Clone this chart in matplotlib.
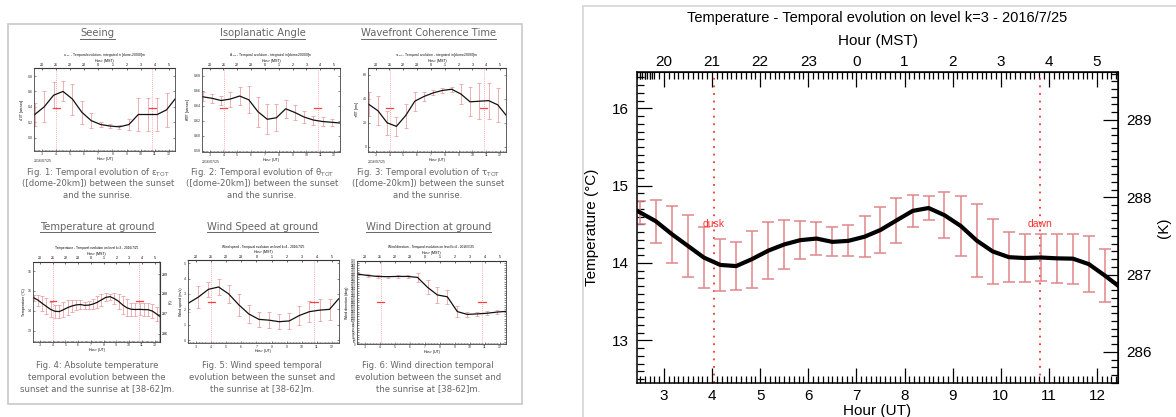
import numpy as np
import matplotlib
matplotlib.use('Agg')
import matplotlib.pyplot as plt
from matplotlib.ticker import MultipleLocator, FixedLocator, FuncFormatter
from matplotlib.lines import Line2D
from matplotlib.patches import Rectangle

# ---- main chart data: temperature at level k=3, 2016/7/25 ----
bar_hours = [2.50, 2.83, 3.17, 3.50, 3.83, 4.17, 4.50, 4.83, 5.17, 5.50,
             5.83, 6.17, 6.50, 6.83, 7.17, 7.50, 7.83, 8.17, 8.50, 8.83,
             9.17, 9.50, 9.83, 10.17, 10.50, 10.83, 11.17, 11.50, 11.83, 12.17]
temp_mean = [14.655, 14.54, 14.37, 14.22, 14.07, 13.975, 13.96, 14.05, 14.16, 14.24,
             14.295, 14.316, 14.273, 14.286, 14.34, 14.427, 14.55, 14.674, 14.711, 14.618,
             14.478, 14.29, 14.15, 14.075, 14.064, 14.071, 14.06, 14.056, 13.985, 13.834]
temp_err = [0.151, 0.276, 0.37, 0.40, 0.39, 0.335, 0.31, 0.37, 0.37, 0.32,
            0.245, 0.21, 0.187, 0.20, 0.263, 0.30, 0.29, 0.205, 0.151, 0.295,
            0.388, 0.467, 0.418, 0.325, 0.31, 0.308, 0.319, 0.323, 0.36, 0.343]
# curve values at the left / right edge of the plot
edge_hours = [2.45, 12.43]
edge_temp = [14.67, 13.71]

dusk_hour = 4.03
dawn_hour = 10.81

# ---- small charts on the web page (left part) ----
small_hours = [2.45, 2.50, 3.17, 3.83, 4.50, 5.17, 5.83, 6.50, 7.17, 7.83,
               8.50, 9.17, 9.83, 10.50, 11.17, 11.83, 12.43]
seeing = [0.29, 0.30, 0.40, 0.55, 0.60, 0.50, 0.33, 0.22, 0.17, 0.15,
          0.14, 0.17, 0.30, 0.30, 0.30, 0.36, 0.50]
seeing_err = [0, 0.15, 0.20, 0.17, 0.13, 0.20, 0.15, 0.10, 0.03, 0.03,
              0.03, 0.07, 0.22, 0.22, 0.22, 0.22, 0]
iso = [0.652, 0.652, 0.650, 0.647, 0.649, 0.653, 0.648, 0.632, 0.622, 0.624,
       0.636, 0.631, 0.625, 0.621, 0.619, 0.618, 0.617]
iso_err = [0, 0.006, 0.006, 0.006, 0.010, 0.012, 0.018, 0.020, 0.020, 0.018,
           0.012, 0.010, 0.008, 0.006, 0.006, 0.005, 0]
tau = [35.6, 35.4, 30, 20, 17, 26, 38, 42, 45, 47,
       48, 44, 37.5, 38, 38.5, 35, 26.4]
tau_err = [0, 10, 12, 10, 8, 10, 8, 4, 2, 2,
           2, 8, 12, 15, 15, 14, 0]
wspeed = [2.38, 2.4, 2.8, 3.3, 3.45, 3.0, 2.3, 1.7, 1.35, 1.3,
          1.2, 1.25, 1.6, 1.85, 1.95, 2.0, 2.68]
wspeed_err = [0, 0.6, 0.7, 0.5, 0.5, 0.6, 0.7, 0.6, 0.5, 0.5,
              0.5, 0.5, 0.6, 0.7, 0.7, 0.7, 0]
wdir = [303, 302, 296, 292, 291, 292, 292, 288, 245, 212,
        204, 140, 128, 130, 133, 138, 141]
wdir_err = [0, 5, 5, 5, 5, 5, 5, 20, 30, 35,
            30, 25, 10, 8, 8, 8, 0]

W, H = 1176, 417
fig = plt.figure(figsize=(W / 100, H / 100), dpi=100)
plt.rcParams['font.family'] = ['Liberation Sans', 'DejaVu Sans']


def box(x0, y0, x1, y1):
    # pixel box (top-left origin) -> figure fraction
    return [x0 / W, 1 - y1 / H, (x1 - x0) / W, (y1 - y0) / H]


def mst_fmt(v, p):
    return f'{int(round(v)) % 24}'


BAR_RED = '#e0868a'
LINE_RED = '#ff3030'

# ================= main chart =================
ax = fig.add_axes(box(637.3, 72, 1117.7, 383.3))
ax.set_xlim(2.446, 12.43)
ax.set_ylim(12.444, 16.47)
ax.axvline(dusk_hour, color=LINE_RED, lw=1.3, ls=(0, (1.0, 3.2)))
ax.axvline(dawn_hour, color=LINE_RED, lw=1.3, ls=(0, (1.0, 3.2)))
ax.errorbar(bar_hours, temp_mean, yerr=temp_err, fmt='none', ecolor=BAR_RED,
            elinewidth=1.1, capsize=4, capthick=1.1)
ax.plot([edge_hours[0]] + bar_hours + [edge_hours[1]],
        [edge_temp[0]] + temp_mean + [edge_temp[1]], color='black', lw=3.0,
        solid_joinstyle='round')
ax.text(dusk_hour, 14.505, 'dusk', color=LINE_RED, fontsize=7.5, ha='center', va='center')
ax.text(dawn_hour, 14.505, 'dawn', color=LINE_RED, fontsize=7.5, ha='center', va='center')

ax.xaxis.set_major_locator(MultipleLocator(1))
ax.xaxis.set_minor_locator(MultipleLocator(0.1))
ax.yaxis.set_major_locator(MultipleLocator(1))
ax.yaxis.set_minor_locator(MultipleLocator(0.1))
ax.tick_params(which='major', direction='in', length=11, width=0.9, labelsize=11,
               top=False, right=False, pad=4)
ax.tick_params(which='minor', direction='in', length=5.3, width=0.9, top=False, right=False)
ax.tick_params(axis='y', pad=6)
for s in ax.spines.values():
    s.set_linewidth(1.1)
ax.set_xlabel('Hour (UT)', fontsize=11, labelpad=1)
ax.set_ylabel('Temperature (°C)', fontsize=11)
ax.yaxis.set_label_coords(-0.08, 0.5)

top = ax.secondary_xaxis('top', functions=(lambda h: h - 7, lambda h: h + 7))
top.xaxis.set_major_locator(MultipleLocator(1))
top_minor = list(np.arange(-4.55, -4.2, 0.05)) + list(np.arange(-4.5, 5.5, 0.1))
top.xaxis.set_minor_locator(FixedLocator(top_minor))
top.xaxis.set_major_formatter(FuncFormatter(mst_fmt))
top.tick_params(which='major', direction='in', length=11, width=0.9, labelsize=11, pad=2)
top.tick_params(which='minor', direction='in', length=5.3, width=0.9)
top.set_xlabel('Hour (MST)', fontsize=11, labelpad=7)

right = ax.secondary_yaxis('right', functions=(lambda c: c + 273.15, lambda k: k - 273.15))
right.yaxis.set_major_locator(MultipleLocator(1))
right.yaxis.set_minor_locator(MultipleLocator(0.1))
right.tick_params(which='major', direction='in', length=11, width=0.9, labelsize=11, pad=6)
right.tick_params(which='minor', direction='in', length=5.3, width=0.9)
right.set_ylabel('(K)', fontsize=11, labelpad=4)

ax.set_title('Temperature - Temporal evolution on level k=3 - 2016/7/25', fontsize=10.5, pad=9)

# light frame around the right-hand picture
fig.add_artist(Line2D([583 / W, 1.0], [1 - 5.5 / H] * 2, transform=fig.transFigure,
                      color='#d6d6d6', lw=1.2))
fig.add_artist(Line2D([583 / W] * 2, [0, 1 - 5.5 / H], transform=fig.transFigure,
                      color='#d6d6d6', lw=1.2))

# ================= left web page =================
fig.add_artist(Rectangle((8 / W, 1 - 404 / H), (522 - 8) / W, (404 - 23.5) / H,
                         transform=fig.transFigure, fill=False, ec='#c8c8c8', lw=1.2))

GRAY = '#666666'
TINY = 2.6


def small_chart(pos, title, ylabel, vals, errs, ylim, yticks, mark_y,
                date=False, kelvin=False, hours=small_hours, ytick_size=TINY):
    a = fig.add_axes(box(*pos))
    a.set_xlim(2.446, 12.43)
    a.set_ylim(*ylim)
    a.axvline(dusk_hour, color='#ff6060', lw=0.5, ls=(0, (1, 2)))
    a.axvline(dawn_hour, color='#ff6060', lw=0.5, ls=(0, (1, 2)))
    a.errorbar(hours[1:-1], vals[1:-1], yerr=errs[1:-1], fmt='none', ecolor='#eaa3a5',
               elinewidth=0.6, capsize=1.2, capthick=0.6)
    a.plot(hours, vals, color='#111111', lw=0.9)
    a.plot([dusk_hour - 0.25, dusk_hour + 0.25], [mark_y] * 2, color='#ff4040', lw=0.9)
    a.plot([dawn_hour - 0.25, dawn_hour + 0.25], [mark_y] * 2, color='#ff4040', lw=0.9)
    a.xaxis.set_major_locator(MultipleLocator(1))
    a.xaxis.set_minor_locator(MultipleLocator(0.1))
    a.yaxis.set_major_locator(FixedLocator(yticks))
    a.tick_params(which='major', direction='in', length=1.6, width=0.4, labelsize=TINY,
                  pad=1, top=False, right=not kelvin, colors='#333333')
    a.tick_params(axis='y', labelsize=ytick_size)
    a.tick_params(which='minor', direction='in', length=0.8, width=0.3, top=False,
                  right=not kelvin)
    for s in a.spines.values():
        s.set_linewidth(0.6)
        s.set_color('#444444')
    a.set_xlabel('Hour (UT)', fontsize=TINY, labelpad=0.5)
    a.set_ylabel(ylabel, fontsize=TINY, labelpad=1)
    t = a.secondary_xaxis('top', functions=(lambda h: h - 7, lambda h: h + 7))
    t.xaxis.set_major_locator(MultipleLocator(1))
    t.xaxis.set_minor_locator(MultipleLocator(0.1))
    t.xaxis.set_major_formatter(FuncFormatter(mst_fmt))
    t.tick_params(which='major', direction='in', length=1.6, width=0.4, labelsize=TINY, pad=1)
    t.tick_params(which='minor', direction='in', length=0.8, width=0.3)
    t.set_xlabel('Hour (MST)', fontsize=TINY, labelpad=0.8)
    a.set_title(title, fontsize=2.3, pad=2)
    if kelvin:
        k = a.secondary_yaxis('right', functions=(lambda c: c + 273.15, lambda v: v - 273.15))
        k.yaxis.set_major_locator(MultipleLocator(1))
        k.yaxis.set_minor_locator(MultipleLocator(0.1))
        k.tick_params(which='major', direction='in', length=1.6, width=0.4, labelsize=TINY, pad=1)
        k.tick_params(which='minor', direction='in', length=0.8, width=0.3)
        k.set_ylabel('(K)', fontsize=TINY, labelpad=1)
    if date:
        a.text(0.0, -0.1, '2016/07/25', transform=a.transAxes, fontsize=TINY,
               ha='left', va='top', color='#333333')
    return a


small_chart((34, 68.3, 175, 150.7), r'$\epsilon_{TOT}$ - Temporal evolution - integrated in [dome-20000]m',
            r'$\epsilon_{TOT}$ [arcsec]', seeing, seeing_err, (-0.17, 0.9),
            [0.0, 0.2, 0.4, 0.6, 0.8], 0.38, date=True)
small_chart((202, 68.3, 340, 151.5), r'$\theta_{TOT}$ - Temporal evolution - integrated in [dome-20000]m',
            r'$\theta_{TOT}$ [arcsec]', iso, iso_err, (0.579, 0.69),
            [0.58, 0.60, 0.62, 0.64, 0.66, 0.68], 0.637, date=True)
small_chart((368, 68.3, 506, 151.5), r'$\tau_{TOT}$ - Temporal evolution - integrated in [dome-20000]m',
            r'$\tau_{TOT}$ [ms]', tau, tau_err, (-4, 65.5),
            [0, 20, 40, 60], 32, date=True)
small_chart((33, 261.7, 160, 341.7), 'Temperature - Temporal evolution on level k=3 - 2016/7/25',
            'Temperature (°C)', [edge_temp[0]] + temp_mean + [edge_temp[1]],
            [0] + temp_err + [0], (12.444, 16.47), [13, 14, 15, 16], 14.5,
            kelvin=True, hours=[edge_hours[0]] + bar_hours + [edge_hours[1]])
small_chart((187.5, 260, 338.6, 343.3), 'Wind speed - Temporal evolution on level k=4 - 2016/7/25',
            'Wind speed (m/s)', wspeed, wspeed_err, (-0.2, 5.2),
            [0, 1, 2, 3, 4, 5], 2.45)
small_chart((357, 260.7, 506, 344), 'Wind direction - Temporal evolution on level k=4 - 2016/7/25',
            'Wind direction (deg)', wdir, wdir_err, (0, 360),
            list(range(0, 361, 10)), 181, ytick_size=2.2)

heads = [('Seeing', 97.5, 33), ('Isoplanatic Angle', 262.5, 33),
         ('Wavefront Coherence Time', 428.5, 33),
         ('Temperature at ground', 97.5, 226.7), ('Wind Speed at ground', 262.5, 226.7),
         ('Wind Direction at ground', 428.5, 226.7)]
head_texts = []
for txt, x, y in heads:
    head_texts.append(fig.text(x / W, 1 - y / H, txt, family='DejaVu Sans', fontsize=7.2,
                               color=GRAY, ha='center', va='center'))

captions = [
    (98, 172.7, ['Fig. 1: Temporal evolution of ε$_{\\rm TOT}$',
                 '([dome-20km]) between the sunset', 'and the sunrise.']),
    (262, 172.7, ['Fig. 2: Temporal evolution of θ$_{\\rm TOT}$',
                  '([dome-20km]) between the sunset', 'and the sunrise.']),
    (428, 172.7, ['Fig. 3: Temporal evolution of τ$_{\\rm TOT}$',
                  '([dome-20km]) between the sunset', 'and the sunrise.']),
    (97, 365.7, ['Fig. 4: Absolute temperature', 'temporal evolution between the',
                 'sunset and the sunrise at [38-62]m.']),
    (262, 365.7, ['Fig. 5: Wind speed temporal', 'evolution between the sunset and',
                  'the sunrise at [38-62]m.']),
    (428, 365.7, ['Fig. 6: Wind direction temporal', 'evolution between the sunset and',
                  'the sunrise at [38-62]m.']),
]
for x, y, lines in captions:
    for i, line in enumerate(lines):
        fig.text(x / W, 1 - (y + i * 11.3) / H, line, family='DejaVu Sans', fontsize=6.1,
                 color=GRAY, ha='center', va='center')

# underline the section headings
fig.canvas.draw()
rend = fig.canvas.get_renderer()
for t in head_texts:
    bb = t.get_window_extent(rend)
    fig.add_artist(Line2D([bb.x0 / W, bb.x1 / W], [(bb.y0 - 0.5) / H] * 2,
                          transform=fig.transFigure, color=GRAY, lw=0.7))

fig.savefig('out.png', dpi=100)
